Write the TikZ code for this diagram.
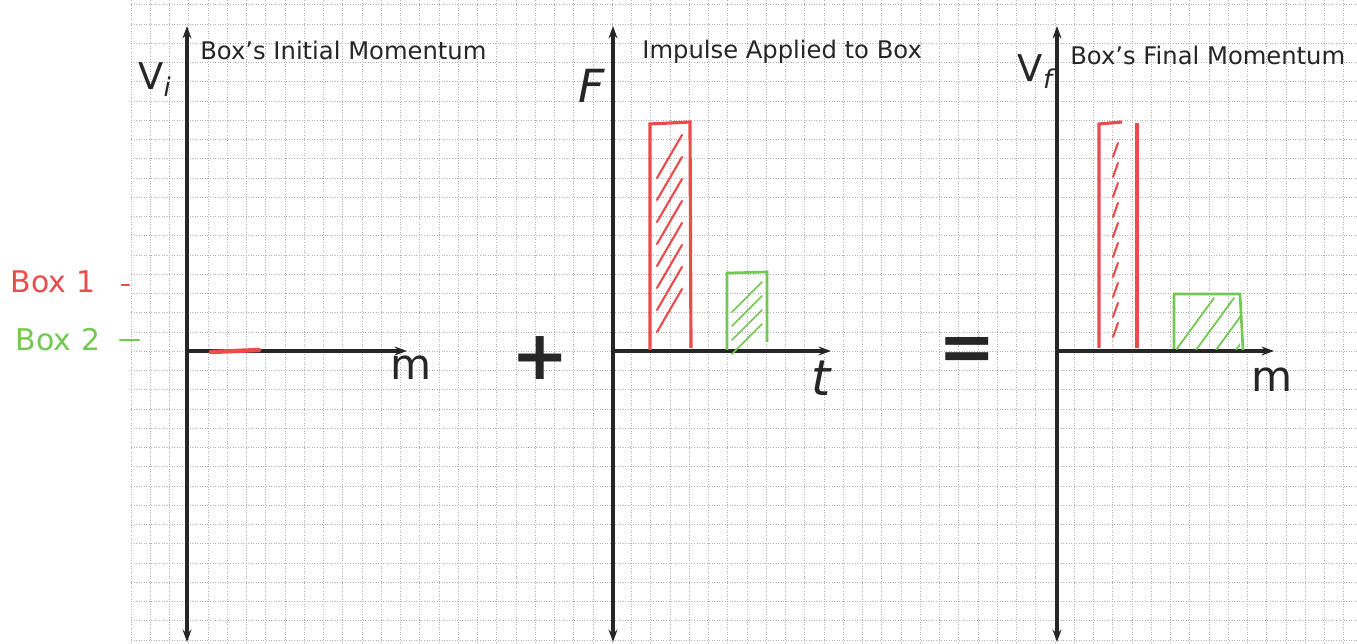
\documentclass[tikz,border=0pt]{standalone}
\usepackage{fontspec}
\setmainfont{DejaVu Sans}
\definecolor{markerRed}{HTML}{EC4B4B}
\definecolor{markerGreen}{HTML}{72C850}
\definecolor{penInk}{HTML}{262626}
\usetikzlibrary{arrows.meta, positioning}

\begin{document}
\begin{tikzpicture}[
        x=0.02cm, y=-0.02cm,
        gridline/.style={gray!60, densely dotted, line width=0.45pt},
        axisline/.style={{Stealth[length=7pt,width=5pt]}-{Stealth[length=7pt,width=5pt]}, penInk, line width=1.9pt},
        xaxisline/.style={-{Stealth[length=7pt,width=5pt]}, penInk, line width=1.9pt},
        paneltitle/.style={anchor=west, inner sep=0pt, text=penInk, font=\fontsize{13.8}{15}\selectfont},
        axislabel/.style={inner sep=0pt, text=penInk, font=\fontsize{24}{26}\selectfont},
        boxlabel/.style={inner sep=0pt, font=\fontsize{17}{19}\selectfont},
        barred/.style={draw=markerRed, line width=1.8pt},
        bargreen/.style={draw=markerGreen, line width=1.5pt},
        hatchred/.style={markerRed, line width=1.2pt, line cap=round},
        hatchgreen/.style={markerGreen, line width=1pt, line cap=round},
        sign/.style={inner sep=0pt, text=penInk, font=\fontsize{39}{41}\selectfont\bfseries},
      ]
        \useasboundingbox (0,0) rectangle (1357,644);
        \fill[white] (0,0) rectangle (1357,644);

        % graph paper
        \foreach \gx in {0,...,63}
          \draw[gridline] ({131+19.25*\gx},0) -- ({131+19.25*\gx},644);
        \foreach \gy in {0,...,33}
          \draw[gridline] (131,{4.75+19.25*\gy}) -- (1357,{4.75+19.25*\gy});

        % axes
        \coordinate (top1) at (187,26);   \coordinate (bot1) at (187,642);
        \coordinate (org1) at (187,351);  \coordinate (end1) at (407,351);
        \coordinate (top2) at (613,26);   \coordinate (bot2) at (613,642);
        \coordinate (org2) at (613,351);  \coordinate (end2) at (831,351);
        \coordinate (top3) at (1057,26);  \coordinate (bot3) at (1057,642);
        \coordinate (org3) at (1057,351); \coordinate (end3) at (1274,351);

        \draw[axisline] (bot1) -- (top1);
        \draw[xaxisline] (org1) -- (end1);
        \draw[axisline] (bot2) -- (top2);
        \draw[xaxisline] (org2) -- (end2);
        \draw[axisline] (bot3) -- (top3);
        \draw[xaxisline] (org3) -- (end3);

        % titles and axis labels
        \node[paneltitle] (title1) at (200,50) {Box's Initial Momentum};
        \node[paneltitle] (title2) at (642,52) {Impulse Applied to Box};
        \node[paneltitle] (title3) at (1070,55) {Box's Final Momentum};

        \node[axislabel, font=\fontsize{21}{23}\selectfont] (vi) at (155,80) {V\textsubscript{\textit{i}}};
        \node[axislabel] (mlab1) at (411,368) {m};
        \node[axislabel, font=\fontsize{26}{28}\selectfont\itshape] (flab) at (592,86) {F};
        \node[axislabel, font=\fontsize{28}{30}\selectfont\itshape] (tlab) at (821,378) {t};
        \node[axislabel, font=\fontsize{21}{23}\selectfont] (vf) at (1037,72) {V\textsubscript{\textit{f}}};
        \node[axislabel] (mlab3) at (1272,380) {m};

        \node[sign] (plus) at (540,358) {+};
        \node[sign] (equal) at (967,354) {=};

        % legend
        \node[boxlabel, text=markerRed] (box1) at (53,282) {Box 1};
        \node[boxlabel, text=markerGreen] (box2) at (58,340) {Box 2};
        \coordinate (dash1a) at (122,285); \coordinate (dash1b) at (129,285);
        \coordinate (dash2a) at (120,340); \coordinate (dash2b) at (139,340);
        \draw[hatchred, line width=1.6pt] (dash1a) -- (dash1b);
        \draw[hatchgreen, line width=1.6pt] (dash2a) -- (dash2b);

        % initial momentum: box 1 only
        \draw[markerRed, line width=2.5pt, line cap=round] (211,352) -- (259,350);

        % impulse bars
        \draw[barred] (650,350) -- (650,124) -- (690,122) -- (691,348);
        \foreach \k in {0,...,7}
          \draw[hatchred] (657,{178+22*\k}) -- (682,{135+22*\k});
        \draw[bargreen] (727,350) -- (727,273) -- (767,272) -- (767,342);
        \foreach \k in {0,...,3}
          \draw[hatchgreen] (732,{312+14*\k}) -- (762,{282+14*\k});

        % final momentum bars
        \draw[barred] (1099,348) -- (1099,124) -- (1122,122);
        \draw[barred] (1137,123) -- (1137,348);
        \foreach \k in {0,...,9}
          \draw[hatchred] (1113,{157+20*\k}) -- (1118,{143+20*\k});
        \draw[bargreen] (1174,349) -- (1174,294) -- (1240,294) -- (1243,350);
        \begin{scope}
          \clip (1176,296) rectangle (1240,350);
          \foreach \k in {0,...,3}
            \draw[hatchgreen] ({1176+20*\k},350) -- ({1214+20*\k},298);
        \end{scope}
\end{tikzpicture}
\end{document}
